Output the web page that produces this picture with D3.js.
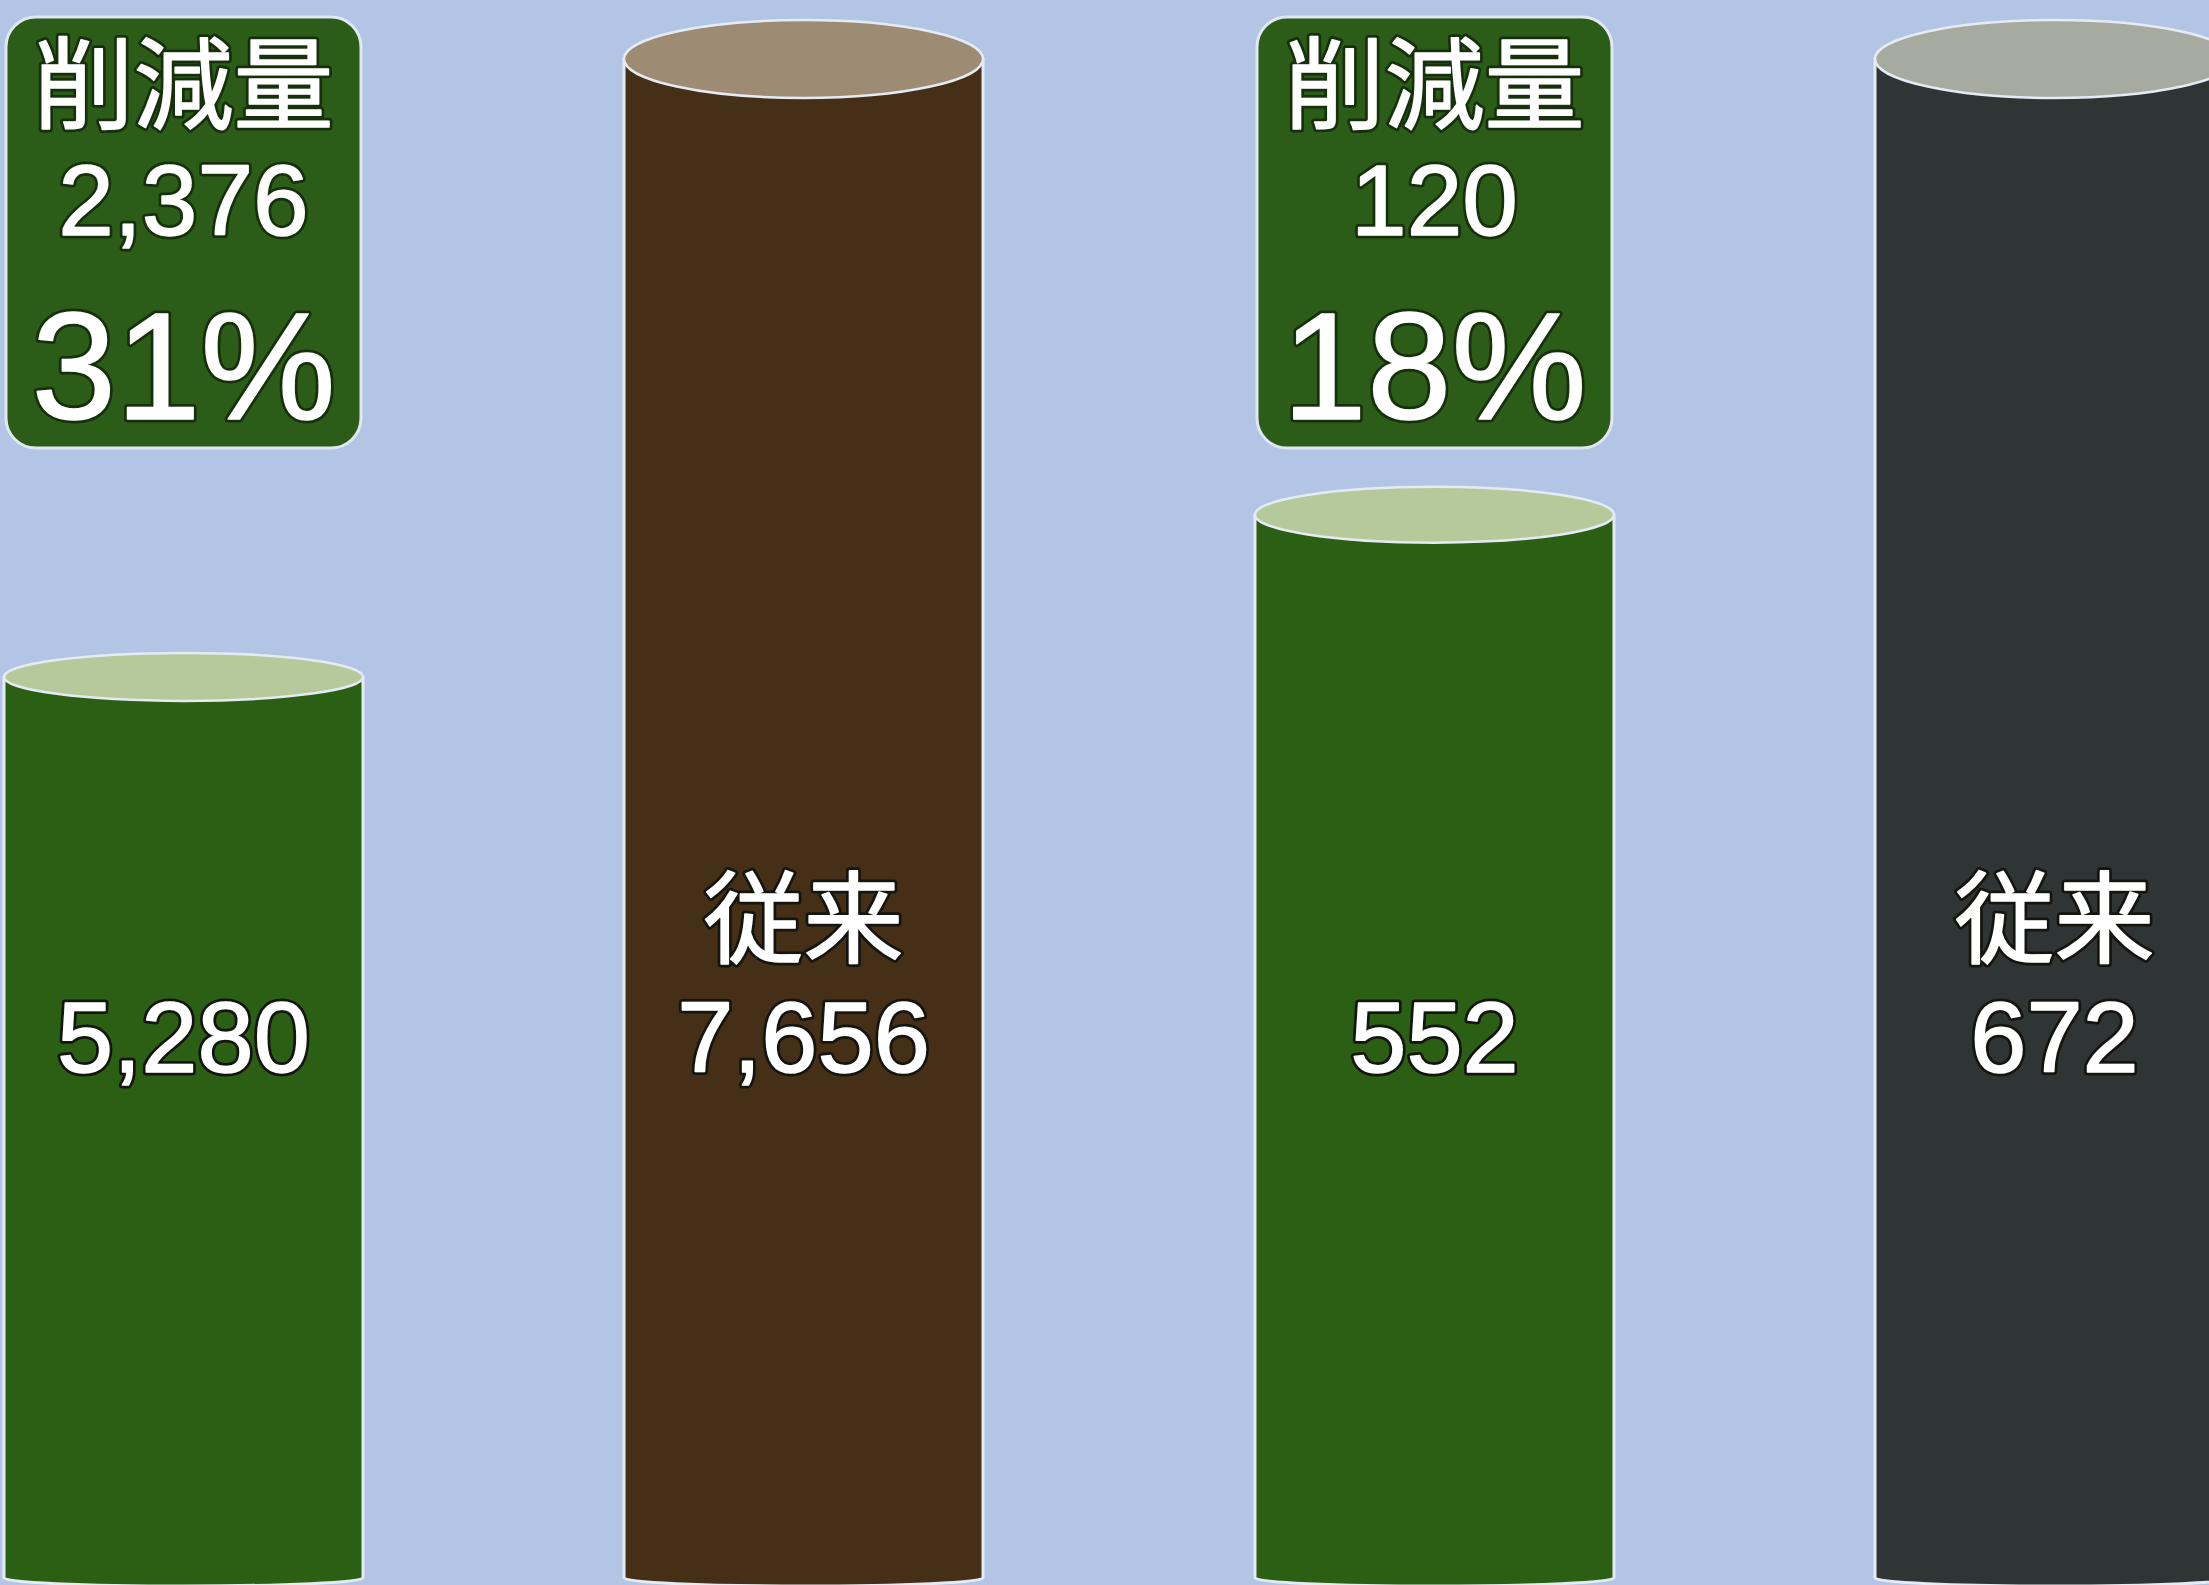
<!DOCTYPE html>
<html>
<head>
<meta charset="utf-8">
<script src="https://cdn.jsdelivr.net/npm/d3@7"></script>
<style>
  html, body { margin: 0; padding: 0; background: #b2c5e4; }
  svg { display: block; }
  .lbl { text-anchor: middle; stroke-linejoin: round; }
  .jp { font-family: "Noto Sans CJK JP", sans-serif; }
  .num { font-family: "Liberation Sans", Arial, sans-serif; }
</style>
</head>
<body>
<div id="chart"></div>
<script>
// two comparisons, each: new / conventional
var panels = ["A", "B"]
var kinds = ["new", "old"]
var values = [5280, 7656, 552, 672]
var labels = ["", "従来", "", "従来"]
var bodyColors = ["#2b5f14", "#452f17", "#2b5f14", "#2f3534"]
var topColors = ["#b6c99a", "#9d8b73", "#b6c99a", "#a7ab9f"]
var boxTitle = "削減量"

var width = 2209, height = 1585
var fmt = d3.format(",")

var svg = d3.select("#chart").append("svg")
    .attr("width", width)
    .attr("height", height)

svg.append("rect")
    .attr("width", width).attr("height", height)
    .attr("fill", "#b2c5e4")

var xPanel = d3.scaleBand()
    .domain(panels)
    .range([4, 2234])
    .paddingInner(0.2174)

var xBar = d3.scaleBand()
    .domain(kinds)
    .range([0, xPanel.bandwidth()])
    .paddingInner(0.421)

var bw = xBar.bandwidth()

// the source chart is cropped, each pair has its own scale
var yScales = {
    A: d3.scaleLinear().domain([0, 7656]).range([2050, 59]),
    B: d3.scaleLinear().domain([0, 672]).range([2611, 59])
}

var bottomY = 1578, bottomRy = 8
// top ellipse gets flatter lower down the page
function ryAt(cy){ return 39 - 0.0243 * (cy - 59) }

var data = values.map(function(v, i){
    var p = panels[Math.floor(i / 2)], k = kinds[i % 2]
    return { panel: p, kind: k, value: v, label: labels[i],
             body: bodyColors[i], top: topColors[i],
             x0: xPanel(p) + xBar(k) }
})
data.forEach(function(d){ d.cy = yScales[d.panel](d.value); d.cx = d.x0 + bw / 2 })

// white text with a thin dark halo, drawn as two layers
function haloText(sel, cls, xf, y, size, halo, txt){
    [[halo, 7], ["#fff", 1.5]].forEach(function(l){
        sel.append("text")
            .attr("class", "lbl " + cls)
            .attr("x", xf)
            .attr("y", y)
            .attr("font-size", size)
            .attr("fill", "#fff")
            .attr("stroke", l[0])
            .attr("stroke-width", l[1])
            .text(txt)
    })
}

var cyl = svg.selectAll(".cyl")
    .data(data)
    .enter().append("g")
    .attr("class", "cyl")

cyl.append("path")
    .attr("d", function(d){
        var x1 = d.x0 + bw
        return "M" + d.x0 + "," + d.cy + "L" + d.x0 + "," + bottomY +
            "A" + (bw / 2) + "," + bottomRy + " 0 0 0 " + x1 + "," + bottomY +
            "L" + x1 + "," + d.cy + "Z"
    })
    .attr("fill", function(d){ return d.body })
    .attr("stroke", "#e4ebf5")
    .attr("stroke-width", 3)

cyl.append("ellipse")
    .attr("cx", function(d){ return d.cx })
    .attr("cy", function(d){ return d.cy })
    .attr("rx", bw / 2)
    .attr("ry", function(d){ return ryAt(d.cy) })
    .attr("fill", function(d){ return d.top })
    .attr("stroke", "#e4ebf5")
    .attr("stroke-width", 2.5)

var cx = function(d){ return d.cx }
haloText(cyl.filter(function(d){ return d.label }), "jp", cx, 955, 100, "#151510",
    function(d){ return d.label })
haloText(cyl, "num", cx, 1072, 101, "#151510", function(d){ return fmt(d.value) })

// reduction boxes above the new bars
var reductions = panels.map(function(p){
    var pair = data.filter(function(d){ return d.panel === p })
    var diff = pair[1].value - pair[0].value
    return { bx: pair[0].cx, diff: diff, pct: Math.round(diff / pair[1].value * 100) }
})

var box = svg.selectAll(".box")
    .data(reductions)
    .enter().append("g")
    .attr("class", "box")
    .attr("transform", function(d){ return "translate(" + d.bx + ",0)" })

box.append("rect")
    .attr("x", -bw / 2 + 2)
    .attr("y", 17)
    .attr("width", bw - 4)
    .attr("height", 431)
    .attr("rx", 30)
    .attr("fill", "#2c5d18")
    .attr("stroke", "#dfe8f2")
    .attr("stroke-width", 3)

haloText(box, "jp", 0, 121, 100, "#16300c", boxTitle)
haloText(box, "num", 0, 235, 100, "#16300c", function(d){ return fmt(d.diff) })
haloText(box, "num", 0, 419, 152, "#16300c", function(d){ return d.pct + "%" })
</script>
</body>
</html>
